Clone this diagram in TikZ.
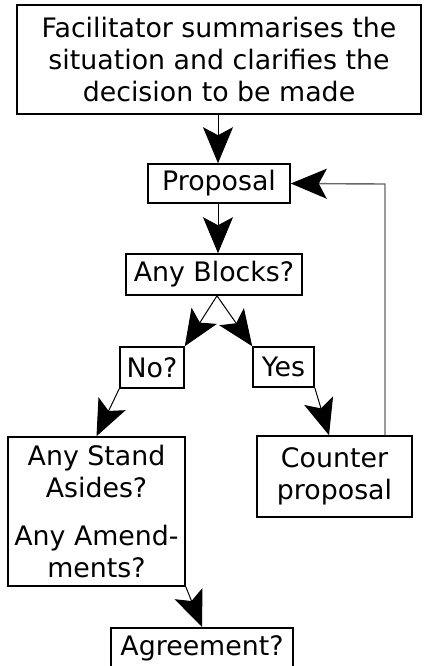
\documentclass[tikz,border=0pt]{standalone}
\usepackage{fontspec}
\setmainfont{DejaVu Sans}
\usetikzlibrary{arrows.meta, positioning}
\tikzset{
    box/.style={draw, line width=0.8pt, align=center, inner sep=0pt, font=\fontsize{13.4}{16}\selectfont},
    flow/.style={-{Stealth[length=18pt, width=15pt, inset=4pt]}, line width=0.5pt},
    back/.style={-{Stealth[length=18pt, width=15pt, inset=4pt, color=black]}, line width=0.7pt, draw=black!60}
}

\begin{document}
\begin{tikzpicture}[x=0.5pt, y=-0.5pt]
    \useasboundingbox (0,0) rectangle (425,666);
    \clip (0,0) rectangle (425,666);
    % Boxes
    \node[box, minimum width=202pt, minimum height=54.5pt] (intro) at (219,59.5)
        {Facilitator summarises the\\situation and clarifies the\\decision to be made};
    \node[box, minimum width=71pt, minimum height=19.5pt] (proposal) at (219,183.5) {Proposal};
    \node[box, minimum width=88pt, minimum height=20.5pt] (blocks) at (214,274.5) {Any Blocks?};
    \node[box, minimum width=32pt, minimum height=20.5pt] (no) at (152,367.5) {No?};
    \node[box, minimum width=30.5pt, minimum height=20pt] (yes) at (283.5,367) {Yes};
    \node[box, minimum width=88.5pt, minimum height=74.5pt] (stand) at (96.5,511.5)
        {Any Stand\\Asides?\\[8pt]Any Amend-\\ments?};
    \node[box, minimum width=77.5pt, minimum height=40.5pt] (counter) at (334.5,476.5)
        {Counter\\proposal};
    \node[box, minimum width=91pt, minimum height=21pt, anchor=north] (agree) at (202,627) {Agreement?};
    % Connectors
    \draw[flow] (intro.south -| 218,0) -- (proposal.north -| 218,0);
    \draw[flow] (proposal.south -| 218,0) -- (blocks.north -| 218,0);
    \draw[flow] (blocks.south -| 217,0) -- (no.north east);
    \draw[flow] (blocks.south -| 217,0) -- (yes.north west);
    \draw[flow] (no.south west) -- (stand.north);
    \draw[flow] (yes.south east) -- (counter.north -| 329,0);
    \draw[flow] (stand.south east) -- (agree.north);
    % Back to the proposal
    \draw[back] (counter.north -| 385,0) -- (385,184) -- (proposal.east);
\end{tikzpicture}
\end{document}
